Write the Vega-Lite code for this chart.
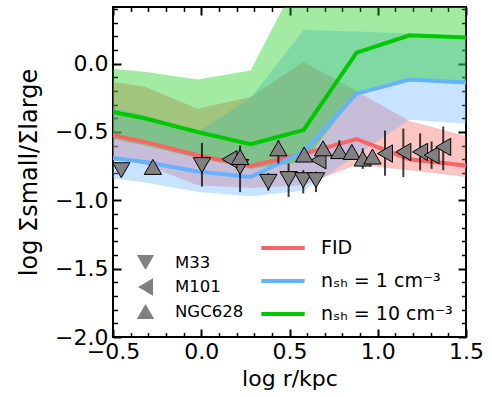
{
  "$schema": "https://vega.github.io/schema/vega-lite/v6.json",
  "width": 353,
  "height": 330,
  "autosize": {"type": "none"},
  "padding": {"left": 113, "top": 7, "right": 26, "bottom": 60},
  "background": "white",
  "config": {
    "font": "DejaVu Sans",
    "view": {"stroke": "black", "strokeWidth": 2},
    "axis": {
      "grid": false, "domain": false, "tickColor": "black", "labelColor": "black", "titleColor": "black",
      "labelFont": "DejaVu Sans", "titleFont": "DejaVu Sans", "labelFontSize": 22, "titleFontSize": 22,
      "titleFontWeight": "normal", "labelOverlap": false, "labelFlush": false, "labelBound": false
    },
    "legend": {"labelFont": "DejaVu Sans", "labelColor": "black"}
  },
  "datasets": {
    "bands": [
      {"x": -0.5, "s": "FID", "lo": -0.68, "mid": -0.524, "hi": -0.134},
      {"x": -0.32, "s": "FID", "lo": -0.74, "mid": -0.573, "hi": -0.17},
      {"x": -0.02, "s": "FID", "lo": -0.89, "mid": -0.67, "hi": -0.33},
      {"x": 0.28, "s": "FID", "lo": -0.91, "mid": -0.749, "hi": -0.244},
      {"x": 0.58, "s": "FID", "lo": -0.89, "mid": -0.66, "hi": 0.012},
      {"x": 0.88, "s": "FID", "lo": -0.74, "mid": -0.552, "hi": -0.2},
      {"x": 1.18, "s": "FID", "lo": -0.78, "mid": -0.7, "hi": -0.42},
      {"x": 1.5, "s": "FID", "lo": -0.83, "mid": -0.745, "hi": -0.53},
      {"x": -0.5, "s": "nₛₕ = 1 cm⁻³", "lo": -0.84, "mid": -0.69, "hi": -0.32},
      {"x": -0.32, "s": "nₛₕ = 1 cm⁻³", "lo": -0.87, "mid": -0.72, "hi": -0.38},
      {"x": -0.02, "s": "nₛₕ = 1 cm⁻³", "lo": -0.94, "mid": -0.79, "hi": -0.5},
      {"x": 0.28, "s": "nₛₕ = 1 cm⁻³", "lo": -0.97, "mid": -0.83, "hi": -0.25},
      {"x": 0.58, "s": "nₛₕ = 1 cm⁻³", "lo": -0.93, "mid": -0.645, "hi": 0.245},
      {"x": 0.88, "s": "nₛₕ = 1 cm⁻³", "lo": -0.67, "mid": -0.22, "hi": 0.235},
      {"x": 1.18, "s": "nₛₕ = 1 cm⁻³", "lo": -0.41, "mid": -0.117, "hi": 0.22},
      {"x": 1.5, "s": "nₛₕ = 1 cm⁻³", "lo": -0.44, "mid": -0.139, "hi": 0.205},
      {"x": -0.5, "s": "nₛₕ = 10 cm⁻³", "lo": -0.55, "mid": -0.354, "hi": -0.037},
      {"x": -0.32, "s": "nₛₕ = 10 cm⁻³", "lo": -0.6, "mid": -0.4, "hi": -0.06},
      {"x": -0.02, "s": "nₛₕ = 10 cm⁻³", "lo": -0.69, "mid": -0.5, "hi": -0.117},
      {"x": 0.28, "s": "nₛₕ = 10 cm⁻³", "lo": -0.77, "mid": -0.59, "hi": -0.05},
      {"x": 0.58, "s": "nₛₕ = 10 cm⁻³", "lo": -0.72, "mid": -0.485, "hi": 0.7},
      {"x": 0.88, "s": "nₛₕ = 10 cm⁻³", "lo": -0.22, "mid": 0.08, "hi": 0.9},
      {"x": 1.18, "s": "nₛₕ = 10 cm⁻³", "lo": -0.11, "mid": 0.207, "hi": 0.9},
      {"x": 1.5, "s": "nₛₕ = 10 cm⁻³", "lo": -0.13, "mid": 0.19, "hi": 0.9}
    ],
    "obs": [
      {"g": "M33", "x": -0.453, "y": -0.78},
      {"g": "M33", "x": 0.004, "y": -0.743, "lo": -0.9, "hi": -0.58},
      {"g": "M33", "x": 0.22, "y": -0.756, "lo": -0.94, "hi": -0.6},
      {"g": "M33", "x": 0.38, "y": -0.865, "lo": -0.93, "hi": -0.8},
      {"g": "M33", "x": 0.495, "y": -0.845, "lo": -0.975, "hi": -0.73},
      {"g": "M33", "x": 0.578, "y": -0.853, "lo": -0.95, "hi": -0.78},
      {"g": "M33", "x": 0.65, "y": -0.853, "lo": -0.94, "hi": -0.79},
      {"g": "M101", "x": 0.16, "y": -0.7},
      {"g": "M101", "x": 0.664, "y": -0.707},
      {"g": "M101", "x": 1.041, "y": -0.658, "lo": -0.82, "hi": -0.49},
      {"g": "M101", "x": 1.145, "y": -0.646, "lo": -0.83, "hi": -0.475},
      {"g": "M101", "x": 1.24, "y": -0.646, "lo": -0.78, "hi": -0.51},
      {"g": "M101", "x": 1.305, "y": -0.67, "lo": -0.77, "hi": -0.57},
      {"g": "M101", "x": 1.371, "y": -0.61, "lo": -0.78, "hi": -0.46},
      {"g": "NGC628", "x": -0.274, "y": -0.756},
      {"g": "NGC628", "x": 0.22, "y": -0.683},
      {"g": "NGC628", "x": 0.437, "y": -0.62, "lo": -0.73, "hi": -0.56},
      {"g": "NGC628", "x": 0.583, "y": -0.665},
      {"g": "NGC628", "x": 0.69, "y": -0.62, "lo": -0.7, "hi": -0.59},
      {"g": "NGC628", "x": 0.782, "y": -0.64, "lo": -0.69, "hi": -0.56},
      {"g": "NGC628", "x": 0.853, "y": -0.646},
      {"g": "NGC628", "x": 0.915, "y": -0.695, "lo": -0.77, "hi": -0.62},
      {"g": "NGC628", "x": 0.97, "y": -0.68}
    ]
  },
  "layer": [
    {
      "data": {"name": "bands"},
      "transform": [{"filter": "datum.s == 'FID'"}],
      "mark": {"type": "area", "clip": true, "fill": "#fa6464", "fillOpacity": 0.38, "strokeWidth": 0},
      "encoding": {
        "x": {"field": "x", "type": "quantitative", "scale": {"domain": [-0.5, 1.5], "nice": false, "zero": false},
          "axis": {"orient": "bottom", "values": [-0.5, 0, 0.5, 1, 1.5], "format": ".1f", "tickSize": -8, "tickWidth": 2, "labelPadding": 12, "title": "log r/kpc", "titlePadding": 6}},
        "y": {"field": "lo", "type": "quantitative", "scale": {"domain": [-2, 0.414], "nice": false, "zero": false},
          "axis": {"orient": "left", "values": [-2, -1.5, -1, -0.5, 0], "format": ".1f", "tickSize": -8, "tickWidth": 2, "labelPadding": 13, "title": "log Σsmall/Σlarge", "titleFontSize": 24, "titlePadding": 13}},
        "y2": {"field": "hi"}
      }
    },
    {
      "data": {"name": "bands"},
      "transform": [{"filter": "datum.s == 'nₛₕ = 1 cm⁻³'"}],
      "mark": {"type": "area", "clip": true, "fill": "#66b2ff", "fillOpacity": 0.36, "strokeWidth": 0},
      "encoding": {
        "x": {"field": "x", "type": "quantitative", "scale": {"domain": [-0.5, 1.5], "nice": false, "zero": false}, "axis": null},
        "y": {"field": "lo", "type": "quantitative", "scale": {"domain": [-2, 0.414], "nice": false, "zero": false}, "axis": null},
        "y2": {"field": "hi"}
      }
    },
    {
      "data": {"name": "bands"},
      "transform": [{"filter": "datum.s == 'nₛₕ = 10 cm⁻³'"}],
      "mark": {"type": "area", "clip": true, "fill": "#00c800", "fillOpacity": 0.36, "strokeWidth": 0},
      "encoding": {
        "x": {"field": "x", "type": "quantitative", "scale": {"domain": [-0.5, 1.5], "nice": false, "zero": false}, "axis": null},
        "y": {"field": "lo", "type": "quantitative", "scale": {"domain": [-2, 0.414], "nice": false, "zero": false}, "axis": null},
        "y2": {"field": "hi"}
      }
    },
    {
      "data": {"name": "bands"},
      "mark": {"type": "line", "clip": true, "strokeWidth": 4},
      "encoding": {
        "x": {"field": "x", "type": "quantitative", "scale": {"domain": [-0.5, 1.5], "nice": false, "zero": false},
          "axis": {"orient": "bottom", "values": [-0.4, -0.3, -0.2, -0.1, 0.1, 0.2, 0.3, 0.4, 0.6, 0.7, 0.8, 0.9, 1.1, 1.2, 1.3, 1.4], "labels": false, "tickSize": -4.5, "tickWidth": 1.5, "title": null}},
        "y": {"field": "mid", "type": "quantitative", "scale": {"domain": [-2, 0.414], "nice": false, "zero": false},
          "axis": {"orient": "left", "values": [-1.9, -1.8, -1.7, -1.6, -1.4, -1.3, -1.2, -1.1, -0.9, -0.8, -0.7, -0.6, -0.4, -0.3, -0.2, -0.1, 0.1, 0.2, 0.3, 0.4], "labels": false, "tickSize": -4.5, "tickWidth": 1.5, "title": null}},
        "stroke": {"field": "s", "type": "nominal", "scale": {"domain": ["FID", "nₛₕ = 1 cm⁻³", "nₛₕ = 10 cm⁻³"], "range": ["#fa6464", "#66b2ff", "#00c800"]},
          "legend": {"orient": "none", "legendX": 159, "legendY": 230, "title": null, "symbolType": "M-2.5,0H2.5", "symbolSize": 300, "symbolStrokeWidth": 4, "labelFontSize": 19, "rowPadding": 12, "labelOffset": 27}}
      }
    },
    {
      "data": {"name": "obs"},
      "transform": [{"filter": "isValid(datum.lo)"}],
      "mark": {"type": "rule", "strokeWidth": 2, "color": "black", "opacity": 0.75},
      "encoding": {
        "x": {"field": "x", "type": "quantitative", "scale": {"domain": [-0.5, 1.5], "nice": false, "zero": false},
          "axis": {"orient": "top", "values": [-0.5, 0, 0.5, 1, 1.5], "labels": false, "tickSize": -8, "tickWidth": 2, "title": null}},
        "y": {"field": "lo", "type": "quantitative", "scale": {"domain": [-2, 0.414], "nice": false, "zero": false},
          "axis": {"orient": "right", "values": [-2, -1.5, -1, -0.5, 0], "labels": false, "tickSize": -8, "tickWidth": 2, "title": null}},
        "y2": {"field": "hi"}
      }
    },
    {
      "data": {"name": "obs"},
      "mark": {"type": "point", "filled": true, "color": "#808080", "stroke": "black", "strokeWidth": 1, "size": 300, "opacity": 1},
      "encoding": {
        "x": {"field": "x", "type": "quantitative", "scale": {"domain": [-0.5, 1.5], "nice": false, "zero": false},
          "axis": {"orient": "top", "values": [-0.4, -0.3, -0.2, -0.1, 0.1, 0.2, 0.3, 0.4, 0.6, 0.7, 0.8, 0.9, 1.1, 1.2, 1.3, 1.4], "labels": false, "tickSize": -4.5, "tickWidth": 1.5, "title": null}},
        "y": {"field": "y", "type": "quantitative", "scale": {"domain": [-2, 0.414], "nice": false, "zero": false},
          "axis": {"orient": "right", "values": [-1.9, -1.8, -1.7, -1.6, -1.4, -1.3, -1.2, -1.1, -0.9, -0.8, -0.7, -0.6, -0.4, -0.3, -0.2, -0.1, 0.1, 0.2, 0.3, 0.4], "labels": false, "tickSize": -4.5, "tickWidth": 1.5, "title": null}},
        "shape": {"field": "g", "type": "nominal", "scale": {"domain": ["M33", "M101", "NGC628"], "range": ["triangle-down", "triangle-left", "triangle-up"]},
          "legend": {"orient": "none", "legendX": 23, "legendY": 246, "title": null, "labelFontSize": 16.5, "symbolSize": 300, "symbolFillColor": "#808080", "symbolStrokeColor": "black", "symbolStrokeWidth": 1, "symbolOpacity": 1, "rowPadding": 3.5, "labelOffset": 20}}
      }
    }
  ],
  "resolve": {"axis": {"x": "independent", "y": "independent"}}
}
